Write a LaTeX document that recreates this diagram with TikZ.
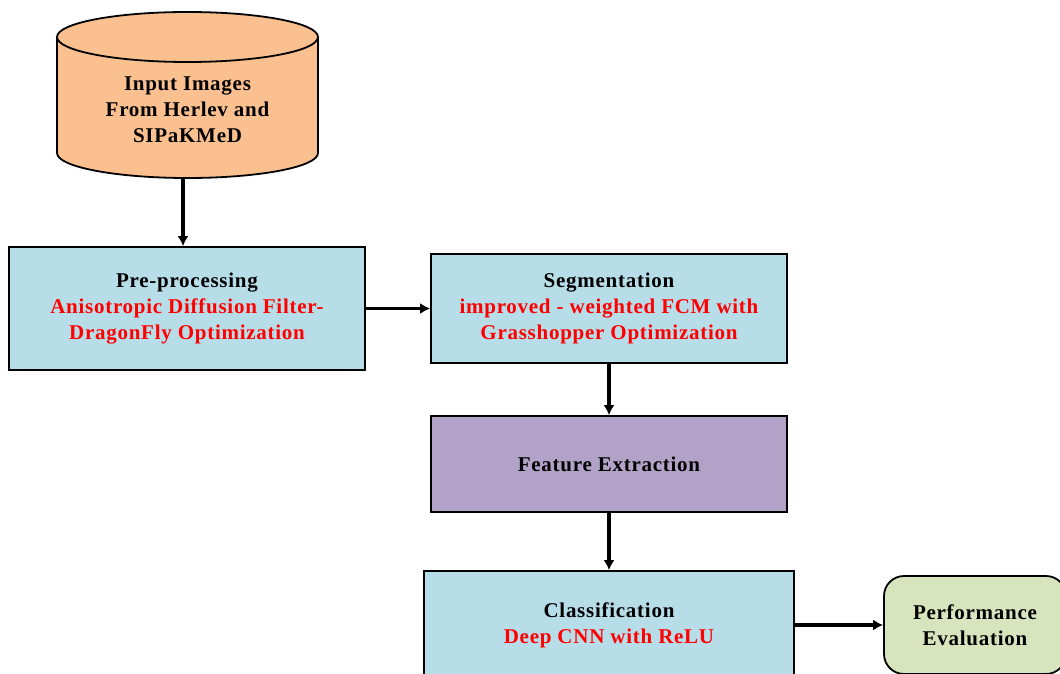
\documentclass[tikz,border=0pt]{standalone}
\usepackage{fontspec}
\setmainfont{Liberation Serif}[LetterSpace=3.5]
\usetikzlibrary{arrows.meta}
\definecolor{cylfill}{HTML}{FAC090}
\definecolor{bluefill}{HTML}{B7DDE8}
\definecolor{purplefill}{HTML}{B3A2C7}
\definecolor{greenfill}{HTML}{D7E4BD}
\definecolor{redtxt}{HTML}{FF0000}
\begin{document}
\begin{tikzpicture}[x=1pt,y=-1pt,
  txt/.style={align=center, font=\bfseries\fontsize{21}{26}\selectfont},
  box/.style={draw=black, line width=1.8pt, rectangle, inner sep=0pt, txt},
  conn/.style={line width=3.2pt, -{Latex[length=10pt,width=11pt]}}]
\useasboundingbox (0,0) rectangle (1060,674);
\clip (0,0) rectangle (1060,674);
% cylinder
\fill[cylfill] (57,37) -- (57,153) arc[start angle=180,end angle=360,x radius=130.5,y radius=-25] -- (318,37) arc[start angle=0,end angle=180,x radius=130.5,y radius=-25] -- cycle;
\draw[line width=1.8pt] (57,37) -- (57,153) arc[start angle=180,end angle=360,x radius=130.5,y radius=-25] -- (318,37);
\draw[line width=1.8pt] (187.5,37) ellipse[x radius=130.5,y radius=25];
\node[txt] (inp) at (187.5,110) {Input Images\\From Herlev and\\SIPaKMeD};
\coordinate (cylb) at (183,178);
% boxes
\node[box, fill=bluefill, minimum width=356pt, minimum height=123pt] (pre) at (187,308.5)
  {Pre-processing\\\textcolor{redtxt}{Anisotropic Diffusion Filter-}\\\textcolor{redtxt}{DragonFly Optimization}};
\node[box, fill=bluefill, minimum width=356pt, minimum height=109pt] (seg) at (609,308.5)
  {Segmentation\\\textcolor{redtxt}{improved - weighted FCM with}\\\textcolor{redtxt}{Grasshopper Optimization}};
\node[box, fill=purplefill, minimum width=356pt, minimum height=96pt] (fe) at (609,464)
  {Feature Extraction};
\node[box, fill=bluefill, minimum width=370pt, minimum height=108pt] (cls) at (609,625)
  {Classification\\\textcolor{redtxt}{Deep CNN with ReLU}};
\node[box, fill=greenfill, rounded corners=20pt, minimum width=182pt, minimum height=98pt] (perf) at (975,625)
  {Performance\\Evaluation};
% connectors
\draw[conn] (cylb) -- (cylb |- pre.north);
\draw[conn] (pre.east) -- (seg.west);
\draw[conn] (seg.south) -- (fe.north);
\draw[conn] (fe.south) -- (cls.north);
\draw[conn] (cls.east) -- (perf.west);
\end{tikzpicture}
\end{document}
